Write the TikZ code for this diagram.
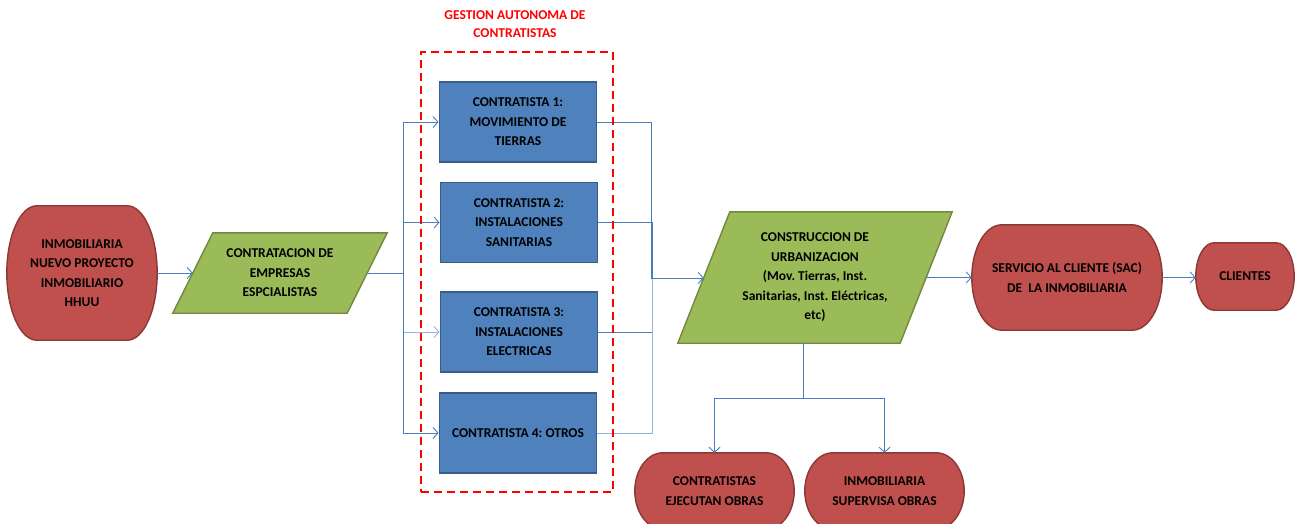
\documentclass[tikz,border=0pt]{standalone}
\usepackage{fontspec}
\setmainfont{Carlito}
\frenchspacing
\usetikzlibrary{arrows.meta,backgrounds,calc}
\definecolor{redfill}{HTML}{C0504D}
\definecolor{redline}{HTML}{8C3836}
\definecolor{grnfill}{HTML}{9BBB59}
\definecolor{grnline}{HTML}{71893F}
\definecolor{bluefill}{HTML}{4F81BD}
\definecolor{blueline}{HTML}{385D8A}
\definecolor{wire}{HTML}{4A7EBB}
\definecolor{wirelight}{HTML}{95B3D7}
\definecolor{framered}{HTML}{FF0000}

% terminator outline (flat top and bottom, half-ellipse ends) around a named node
\newcommand\drawterminal[2]{%
  \draw[termshape] let \p1 = ($(#1.north)-(#1.south)$) in
    ([xshift=#2]#1.north west) -- ([xshift=-#2]#1.north east)
    arc[start angle=90, end angle=-90, x radius=#2, y radius={0.5*\y1}]
    -- ([xshift=#2]#1.south west)
    arc[start angle=270, end angle=90, x radius=#2, y radius={0.5*\y1}] -- cycle;}

% parallelogram outline around a named node
\newcommand\drawslanted[2]{%
  \draw[datashape] ([xshift=-#2]#1.south west) -- ([xshift=-#2]#1.south east)
    -- ([xshift=#2]#1.north east) -- ([xshift=#2]#1.north west) -- cycle;}

\begin{document}
\begin{tikzpicture}[x=1pt,y=-1pt,
  every node/.style={font=\bfseries\fontsize{13.5}{19.5}\selectfont, align=center, inner sep=0pt, text=black},
  termshape/.style={draw=redline, fill=redfill, line width=1.4pt},
  process/.style={draw=blueline, fill=bluefill, line width=1.8pt, minimum width=157, minimum height=80},
  datashape/.style={draw=grnline, fill=grnfill, line width=1.4pt},
  wiring/.style={draw=wire, line width=0.9pt},
  arrowed/.style={wiring, -{Straight Barb[length=5pt,width=11pt,line width=0.9pt]}},
  groupframe/.style={draw=framered, line width=2pt, dash pattern=on 8pt off 5pt}]

\clip (0,0) rectangle (1302,524);

% start of the process
\node[minimum width=150, minimum height=134] (inmob) at (82,273)
  {INMOBILIARIA\\NUEVO PROYECTO\\INMOBILIARIO\\HHUU};

% hiring step
\node[minimum width=174, minimum height=80] (contrat) at (280,273)
  {CONTRATACION DE\\EMPRESAS\\ESPCIALISTAS};

% contractors
\node[process] (c1) at (518,122) {CONTRATISTA 1:\\MOVIMIENTO DE\\TIERRAS};
\node[process] (c2) at (519,222.5) {CONTRATISTA 2:\\INSTALACIONES\\SANITARIAS};
\node[process] (c3) at (519,332) {CONTRATISTA 3:\\INSTALACIONES\\ELECTRICAS};
\node[process] (c4) at (518,433) {CONTRATISTA 4: OTROS};

% construction step
\node[minimum width=222, minimum height=131] (constr) at (815,277.5)
  {CONSTRUCCION DE\\URBANIZACION\\(Mov. Tierras, Inst.\\Sanitarias, Inst. Eléctricas,\\etc)};

% customer side
\node[minimum width=190, minimum height=105] (sac) at (1067,277.5)
  {SERVICIO AL CLIENTE (SAC)\\DE\ \ LA INMOBILIARIA};
\node[minimum width=98, minimum height=67] (clientes) at (1245,276.5) {CLIENTES};

% execution and supervision
\node[minimum width=159, minimum height=76] (ejecutan) at (714.5,491)
  {CONTRATISTAS\\EJECUTAN OBRAS};
\node[minimum width=159, minimum height=76] (supervisa) at (884.5,491)
  {INMOBILIARIA\\SUPERVISA OBRAS};

\begin{scope}[on background layer]
  \drawterminal{inmob}{30pt}
  \drawterminal{sac}{30pt}
  \drawterminal{clientes}{18pt}
  \drawterminal{ejecutan}{28pt}
  \drawterminal{supervisa}{28pt}
  \drawslanted{contrat}{20pt}
  \drawslanted{constr}{26pt}
\end{scope}

% junction points
\coordinate (split) at (403,273);
\coordinate (merge) at (651,278);
\coordinate (fork) at (803,398);

% connectors
\draw[arrowed] (inmob.east) -- (contrat.west);
\draw[wiring] (contrat.east) -- (split);
\draw[arrowed] (split) |- (c1.west);
\draw[arrowed] (split) |- (c2.west);
\draw[arrowed, draw=wirelight] (split) |- (c3.west);
\draw[arrowed] (split) |- (c4.west);

\draw[wiring] (c1.east) -| (merge);
\draw[wiring] (c2.east) -| ([xshift=1.5pt]merge);
\draw[wiring] (c3.east) -| ([xshift=1.5pt]merge);
\draw[wiring, draw=wirelight] (c4.east) -| ([xshift=1.5pt]merge);
\draw[arrowed] (merge) -- (merge -| constr.west);

\draw[arrowed] (constr.east) -- (sac.west);
\draw[arrowed] (sac.east) -- (sac.east -| clientes.west);

\draw[wiring] ([xshift=-12pt]constr.south) -- (fork);
\draw[arrowed] (fork) -| (ejecutan.north);
\draw[arrowed] (fork) -| (supervisa.north);

% group of autonomous contractors
\node[groupframe, minimum width=192, minimum height=440] (grupo) at (517,272) {};
\node[text=framered, font=\bfseries\fontsize{13.5}{18}\selectfont] (titulo) at (515,24)
  {GESTION AUTONOMA DE\\CONTRATISTAS};

\end{tikzpicture}
\end{document}
